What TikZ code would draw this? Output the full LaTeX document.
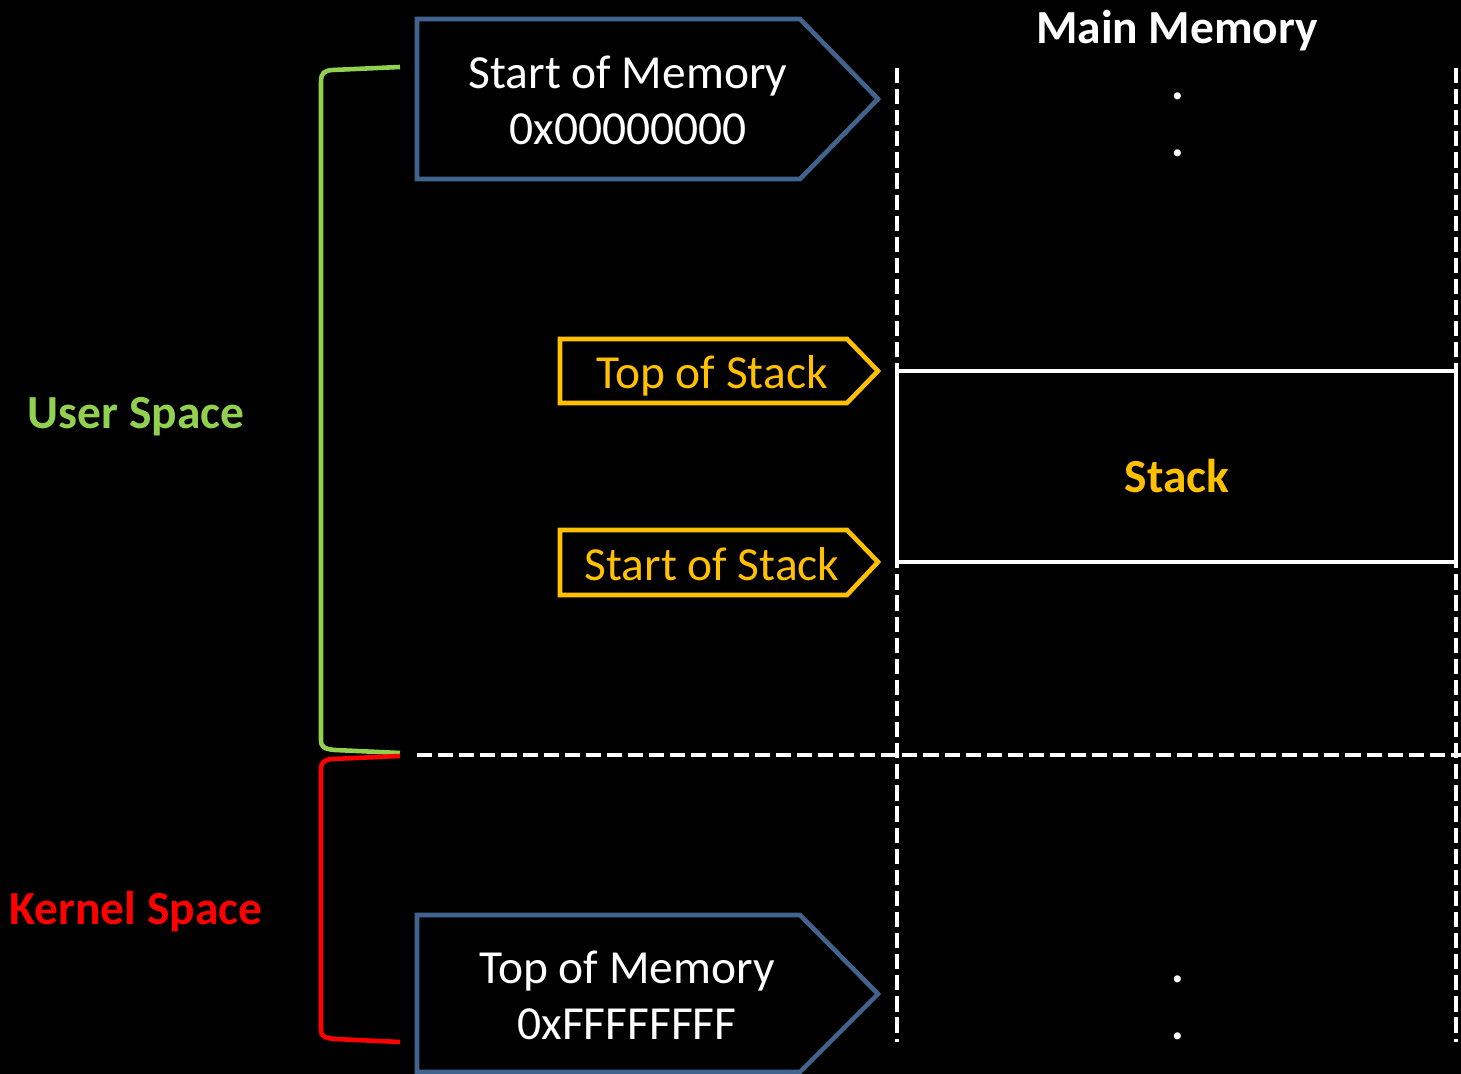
\documentclass[tikz,border=0pt]{standalone}
\usepackage{fontspec}
\setmainfont{Carlito}
\definecolor{memblue}{HTML}{41648F}
\definecolor{stackyellow}{HTML}{FFC000}
\definecolor{usergreen}{HTML}{92D050}
\definecolor{kernelred}{HTML}{FF0000}

\begin{document}
\begin{tikzpicture}[x=0.01cm, y=-0.01cm,
  every node/.style={inner sep=0pt, font=\fontsize{13.5}{15.9}\selectfont},
  bold text/.style={anchor=base, font=\fontsize{13.5}{15.9}\selectfont\bfseries},
  membox/.style={draw=memblue, line width=1.3pt},
  stackbox/.style={draw=stackyellow, line width=1.3pt},
  memline/.style={white, line width=1.3pt, dash pattern=on 4.3pt off 1.7pt},
  bracket/.style={line width=1.3pt}]
\useasboundingbox (0,0) rectangle (1461,1074);
\fill[black] (0,0) rectangle (1461,1074);

\draw[membox] (417,19) -- (800,19) -- (878,99) -- (800,179) -- (417,179) -- cycle;
\node[white, align=center] (startmem) at (628,100) {Start of Memory\\0x00000000};
\draw[membox] (417,915) -- (800,915) -- (878,994) -- (800,1072) -- (417,1072) -- cycle;
\node[white, align=center] (topmem) at (627,995) {Top of Memory\\0xFFFFFFFF};

\draw[stackbox] (560,339) -- (847,339) -- (878,371) -- (847,403) -- (560,403) -- cycle;
\node[stackyellow, anchor=base] (topstack) at (712,389) {Top of Stack};
\draw[stackbox] (560,530) -- (847,530) -- (878,562) -- (847,595) -- (560,595) -- cycle;
\node[stackyellow, anchor=base] (startstack) at (712,581) {Start of Stack};

\draw[memline] (897,68) -- (897,1042);
\draw[memline] (1456,68) -- (1456,1042);
\draw[memline] (417,755) -- (1461,755);
\draw[white, line width=1.3pt] (897,371) rectangle (1456,562);
\node[bold text, stackyellow] (stack) at (1177,493) {Stack};
\node[bold text, white] (mainmem) at (1177,44) {Main Memory};
\node[bold text, white] (dotA) at (1178,100) {.};
\node[bold text, white] (dotB) at (1178,157) {.};
\node[bold text, white] (dotC) at (1178,982) {.};
\node[bold text, white] (dotD) at (1178,1039) {.};

\draw[bracket, usergreen] (400,67) -- (333,70) .. controls (324,70.5) and (321,73) .. (321,82)
  -- (321,740) .. controls (321,747) and (324,749) .. (335,750) -- (400,753);
\node[bold text, usergreen] (user) at (136,429) {User Space};
\draw[bracket, kernelred] (400,756) -- (333,759) .. controls (324,759.5) and (321,762) .. (321,770)
  -- (321,1030) .. controls (321,1036) and (324,1038) .. (335,1039) -- (400,1042);
\node[bold text, kernelred] (kernel) at (136,925) {Kernel Space};
\end{tikzpicture}
\end{document}
